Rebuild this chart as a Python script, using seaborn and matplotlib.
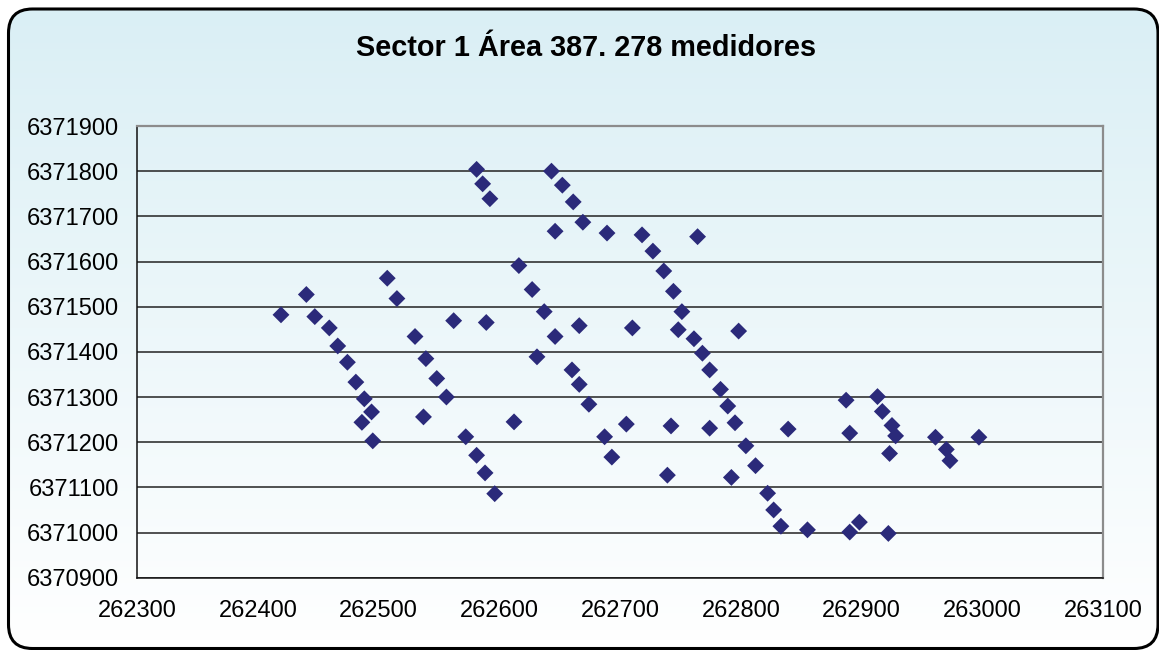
import numpy as np
import pandas as pd
import matplotlib
matplotlib.use("Agg")
import matplotlib.pyplot as plt
from matplotlib.patches import FancyBboxPatch
import seaborn as sns

# Meter coordinates (UTM easting / northing)
easting = [
    262419, 262440, 262447, 262459, 262466, 262474, 262481, 262488, 262494, 262486,
    262495, 262507, 262515, 262530, 262539, 262548, 262556, 262537, 262562, 262589,
    262572, 262581, 262588, 262596, 262581, 262586, 262592, 262612, 262643, 262646,
    262616, 262627, 262637, 262646, 262631, 262652, 262661, 262669, 262689, 262718,
    262727, 262736, 262744, 262751, 262764, 262748, 262761, 262768, 262774, 262783,
    262789, 262795, 262804, 262812, 262822, 262792, 262839, 262798, 262666, 262710,
    262660, 262666, 262674, 262705, 262742, 262774, 262687, 262693, 262739, 262827,
    262833, 262855, 262890, 262898, 262922, 262887, 262890, 262913, 262917, 262925,
    262928, 262923, 262961, 262970, 262973, 262997,
]
northing = [
    6371482, 6371527, 6371478, 6371453, 6371413, 6371377, 6371333, 6371296, 6371267, 6371244,
    6371203, 6371563, 6371518, 6371434, 6371385, 6371341, 6371300, 6371256, 6371469, 6371465,
    6371212, 6371171, 6371132, 6371086, 6371804, 6371772, 6371739, 6371245, 6371800, 6371667,
    6371591, 6371538, 6371489, 6371434, 6371389, 6371769, 6371732, 6371687, 6371663, 6371659,
    6371623, 6371579, 6371534, 6371489, 6371655, 6371449, 6371429, 6371397, 6371360, 6371317,
    6371280, 6371243, 6371192, 6371148, 6371087, 6371122, 6371229, 6371446, 6371458, 6371453,
    6371360, 6371328, 6371284, 6371240, 6371236, 6371231, 6371212, 6371167, 6371127, 6371050,
    6371014, 6371006, 6371001, 6371023, 6370998, 6371293, 6371220, 6371301, 6371268, 6371237,
    6371214, 6371175, 6371211, 6371184, 6371159, 6371211,
]

x_ticks = [262300, 262400, 262500, 262600, 262700, 262800, 262900, 263000, 263100]
y_ticks = [6370900, 6371000, 6371100, 6371200, 6371300, 6371400, 6371500,
           6371600, 6371700, 6371800, 6371900]
title = "Sector 1 Área 387. 278 medidores"

df = pd.DataFrame({"x": easting, "y": northing})

sns.set_style("white")
plt.rcParams["font.family"] = ["Liberation Sans", "DejaVu Sans"]

W, H = 1159, 650
fig = plt.figure(figsize=(W / 100, H / 100), dpi=100)
fig.patch.set_facecolor("white")

# Background panel: rounded frame filled with a vertical blue-to-white gradient
bg = fig.add_axes([0, 0, 1, 1], zorder=-10)
bg.set_xlim(0, W)
bg.set_ylim(H, 0)
bg.axis("off")
top_c = np.array([218, 239, 245]) / 255
bot_c = np.array([255, 255, 255]) / 255
t = np.linspace(0, 1, 256)[:, None]
grad = top_c[None, :] * (1 - t) + bot_c[None, :] * t
grad = np.repeat(grad[:, None, :], 2, axis=1)
fx0, fy0, fx1, fy1 = 8.5, 9.0, 1158.0, 648.5
frame = FancyBboxPatch((fx0, fy0), fx1 - fx0, fy1 - fy0,
                       boxstyle="round,pad=0,rounding_size=24",
                       facecolor="none", edgecolor="black", linewidth=2.2,
                       transform=bg.transData, zorder=2, clip_on=False)
img = bg.imshow(grad, extent=[fx0, fx1, fy1, fy0], aspect="auto", zorder=1)
img.set_clip_path(frame)
bg.add_patch(frame)

# Scatter plot area
ax = fig.add_axes([137.3 / W, 1 - 577.7 / H, (1103.3 - 137.3) / W, (577.7 - 126) / H])
ax.set_facecolor("none")
sns.scatterplot(data=df, x="x", y="y", marker="D", s=74, color="#2b2a7a",
                edgecolor="none", linewidth=0, ax=ax, zorder=3)

ax.set_xlim(x_ticks[0], x_ticks[-1])
ax.set_ylim(y_ticks[0], y_ticks[-1])
ax.set_xticks(x_ticks)
ax.set_xticklabels([str(v) for v in x_ticks])
ax.set_yticks(y_ticks)
ax.set_yticklabels([str(v) for v in y_ticks])
ax.set_xlabel("")
ax.set_ylabel("")

ax.grid(axis="y", color="#222222", linewidth=1.1)
ax.grid(axis="x", visible=False)
ax.set_axisbelow(True)

for side in ("left", "bottom"):
    ax.spines[side].set_color("#111111")
    ax.spines[side].set_linewidth(1.1)
for side in ("right", "top"):
    ax.spines[side].set_color("#8c8c8c")
    ax.spines[side].set_linewidth(1.6)

ax.tick_params(axis="both", which="major", direction="out", length=5,
               width=1, color="#111111", labelsize=17, labelcolor="black")
ax.tick_params(axis="y", pad=8)
ax.tick_params(axis="x", pad=11)

fig.text(586 / W, 1 - 48 / H, title, ha="center", va="center",
         fontsize=20.8, fontweight="bold", color="black")

fig.savefig("out.png", dpi=100)
